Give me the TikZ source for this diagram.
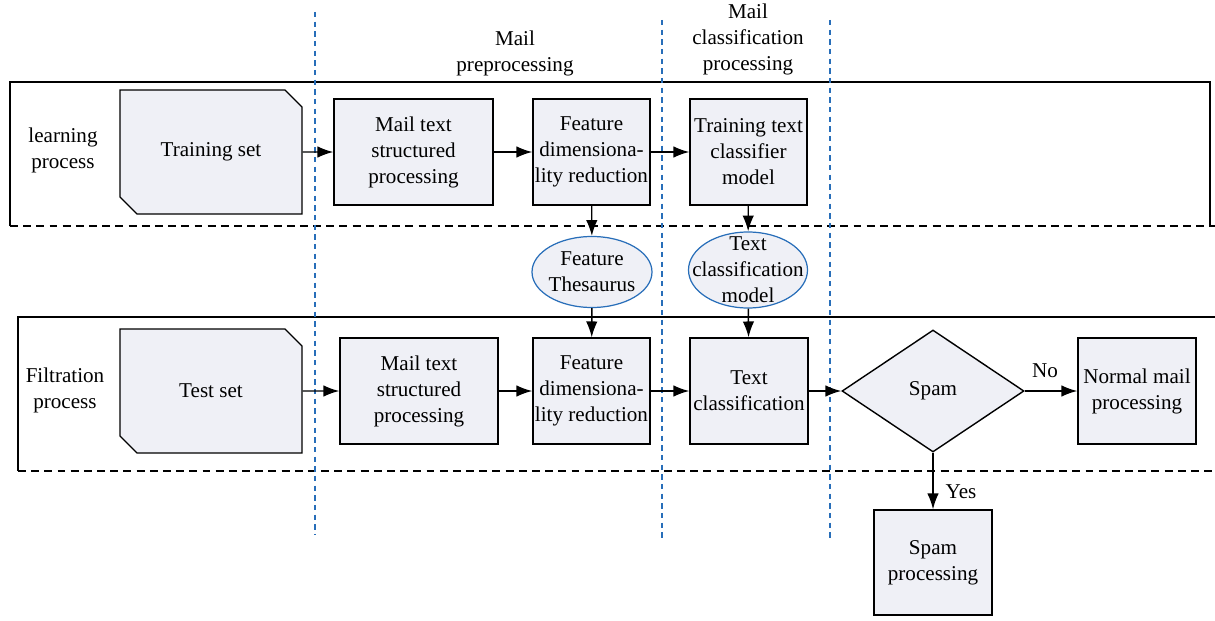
\documentclass[tikz,border=0pt]{standalone}
\usepackage{fontspec}
\setmainfont{Liberation Serif}
\usepackage{xcolor}
\usetikzlibrary{arrows.meta}
\usetikzlibrary{shapes.geometric,shapes.misc}
\definecolor{boxfill}{RGB}{239,240,246}
\definecolor{laneblue}{RGB}{40,110,185}

\begin{document}
\begin{tikzpicture}[>={Latex[length=9pt,width=6.5pt]},
  every node/.style={font=\fontsize{12}{14.8}\selectfont, align=center},
  procbox/.style={draw, line width=0.8pt, fill=boxfill, inner sep=1pt,
    minimum height=2.12cm},
  databox/.style={chamfered rectangle, chamfered rectangle corners={north east,south west},
    chamfered rectangle xsep=0.17cm, chamfered rectangle ysep=0.17cm,
    draw, line width=0.8pt, fill=boxfill, minimum width=3.64cm, minimum height=2.48cm},
  storebox/.style={ellipse, draw=laneblue, line width=0.7pt, fill=boxfill, inner sep=0pt},
  flow/.style={->, line width=0.8pt},
  lanedash/.style={dashed, dash pattern=on 4.5pt off 3pt, line width=0.7pt},
  coldash/.style={laneblue, dash pattern=on 3pt off 2.5pt, line width=0.6pt}]
 \useasboundingbox (0,0) rectangle (24.3,12.4);
 %\draw [help lines] (0,0) grid (24.3,12.4);
 % lanes
 \draw [line width=0.7pt] (0.2,7.88) -- (0.2,10.76) -- (24.2,10.76) -- (24.2,7.88);
 \draw [lanedash] (0.2,7.88) -- (24.3,7.88);
 \draw [line width=0.7pt] (0.36,2.98) -- (0.36,6.06) -- (24.3,6.06);
 \draw [lanedash] (0.36,2.98) -- (24.3,2.98);
 % columns
 \draw [coldash] (6.3,12.16) -- (6.3,1.7);
 \draw [coldash] (13.24,12.0) -- (13.24,1.6);
 \draw [coldash] (16.6,12.0) -- (16.6,1.6);
 \node (colpre) at (10.3,11.34) {Mail\\preprocessing};
 \node (colcls) at (14.96,11.62) {Mail\\classification\\processing};
 \node (learn) at (1.26,9.4) {learning\\process};
 \node (filt) at (1.3,4.6) {Filtration\\process};
 %
 \node [databox] (train) at (4.22,9.36) {Training set};
 \node [procbox, minimum width=3.18cm] (struct1) at (8.27,9.36) {Mail text\\structured\\processing};
 \node [procbox, minimum width=2.34cm] (reduce1) at (11.83,9.36) {Feature\\dimensiona-\\lity reduction};
 \node [procbox, minimum width=2.34cm] (model1) at (14.97,9.36) {Training text\\classifier\\model};
 %
 \node [storebox, minimum width=2.4cm, minimum height=1.42cm,
   label={center:Feature\\Thesaurus}] (thes) at (11.84,6.96) {};
 \node [storebox, minimum width=2.38cm, minimum height=1.52cm,
   label={center:Text\\classification\\model}] (clsmodel) at (14.96,7.0) {};
 %
 \node [databox] (test) at (4.22,4.58) {Test set};
 \node [procbox, minimum width=3.16cm] (struct2) at (8.38,4.58) {Mail text\\structured\\processing};
 \node [procbox, minimum width=2.34cm] (reduce2) at (11.83,4.58) {Feature\\dimensiona-\\lity reduction};
 \node [procbox, minimum width=2.36cm] (classify) at (14.98,4.58) {Text\\classification};
 \node [diamond, draw, line width=0.8pt, fill=boxfill, inner sep=0pt, aspect=1.49,
   minimum width=3.64cm, minimum height=2.44cm] (spam) at (18.66,4.58) {Spam};
 \node [procbox, minimum width=2.36cm] (normal) at (22.74,4.58) {Normal mail\\processing};
 \node [procbox, minimum width=2.36cm, minimum height=2.1cm] (spamproc) at (18.66,1.15) {Spam\\processing};
 %
 \draw [flow] (train) -- (struct1);
 \draw [flow] (struct1) -- (reduce1);
 \draw [flow] (reduce1) -- (model1);
 \draw [flow] (reduce1) -- (thes);
 \draw [flow] (model1) -- (clsmodel);
 \draw [flow] (thes) -- (reduce2);
 \draw [flow] (clsmodel) -- (classify);
 %
 \draw [flow] (test) -- (struct2);
 \draw [flow] (struct2) -- (reduce2);
 \draw [flow] (reduce2) -- (classify);
 \draw [flow] (classify) -- (spam);
 \draw [flow] (spam) -- (normal);
 \draw [flow] (spam) -- (spamproc);
 \node [fill=white, inner sep=1pt] (no) at (20.9,4.98) {No};
 \node (yes) at (19.22,2.56) {Yes};
\end{tikzpicture}
\end{document}
